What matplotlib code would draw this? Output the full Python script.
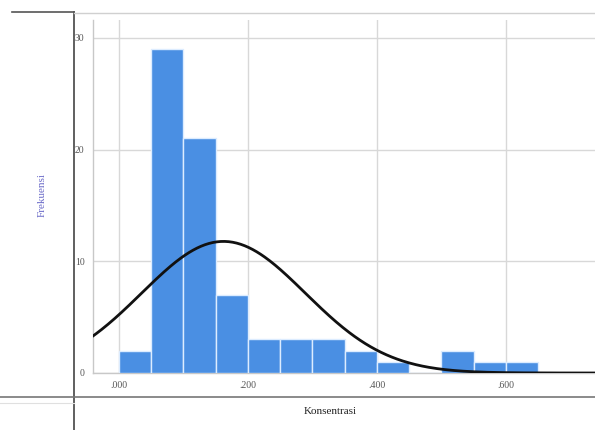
import numpy as np
import matplotlib.pyplot as plt
from matplotlib.lines import Line2D

# histogram bins (Konsentrasi) and counts
bin_edges = [0.00, 0.05, 0.10, 0.15, 0.20, 0.25, 0.30, 0.35, 0.40, 0.45,
             0.50, 0.55, 0.60, 0.65]
counts = [2, 29, 21, 7, 3, 3, 3, 2, 1, 0, 2, 1, 1]

# fitted normal curve
mean_k = 0.162
sd_k = 0.127
n_total = sum(counts)

x_ticks = [0.0, 0.2, 0.4, 0.6]
x_ticklabels = ['.000', '.200', '.400', '.600']
y_ticks = [0, 10, 20, 30]

W, H = 595, 430
fig = plt.figure(figsize=(W / 100, H / 100), dpi=100)
fig.patch.set_facecolor('white')

# plot frame in pixel terms
left_px, right_px, top_px, bottom_px = 93, 595, 20, 373
ax = fig.add_axes([left_px / W, 1 - bottom_px / H,
                   (right_px - left_px) / W, (bottom_px - top_px) / H])

widths = np.diff(bin_edges)
ax.bar(bin_edges[:-1], counts, width=widths, align='edge',
       color='#4a8fe3', edgecolor='#dcecff', linewidth=1.0, zorder=3)

bw = widths[0]
xs = np.linspace(-0.06, 0.76, 400)
ys = n_total * bw * np.exp(-0.5 * ((xs - mean_k) / sd_k) ** 2) / (sd_k * np.sqrt(2 * np.pi))
ax.plot(xs, ys, color='#111111', linewidth=2.0, zorder=4)

ax.set_xlim(-0.0403, 0.738)
ax.set_ylim(0, 31.6)
ax.set_xticks(x_ticks)
ax.set_xticklabels(x_ticklabels)
ax.set_yticks(y_ticks)
ax.tick_params(length=0, labelsize=7, labelcolor='#555555', pad=6)
for lab in ax.get_xticklabels() + ax.get_yticklabels():
    lab.set_family('Liberation Serif')

ax.grid(True, color='#d8d8d8', linewidth=1.0, zorder=0)
ax.set_axisbelow(True)
for side in ['right', 'top']:
    ax.spines[side].set_visible(False)
for side in ['left', 'bottom']:
    ax.spines[side].set_color('#c8c8c8')
    ax.spines[side].set_linewidth(1.0)

# axis titles
fig.text(330 / W, 1 - 412 / H, 'Konsentrasi', ha='center', va='center',
         fontsize=8, family='Liberation Serif', color='#222222')
fig.text(42 / W, 1 - 195 / H, 'Frekuensi', ha='center', va='center',
         rotation=90, fontsize=8, family='Liberation Serif', color='#6a6ac8')

# surrounding table rules
def px_line(x0, y0, x1, y1, color, lw):
    fig.add_artist(Line2D([x0 / W, x1 / W], [1 - y0 / H, 1 - y1 / H],
                          color=color, linewidth=lw, transform=fig.transFigure))

px_line(74, 12, 74, 430, '#444444', 1.2)
px_line(12, 12, 74, 12, '#555555', 1.2)
px_line(74, 13, 595, 13, '#d0d0d0', 1.0)
px_line(0, 397, 595, 397, '#777777', 1.2)
px_line(0, 403, 74, 403, '#e0e0e0', 0.8)

fig.savefig('out.png', dpi=100)
